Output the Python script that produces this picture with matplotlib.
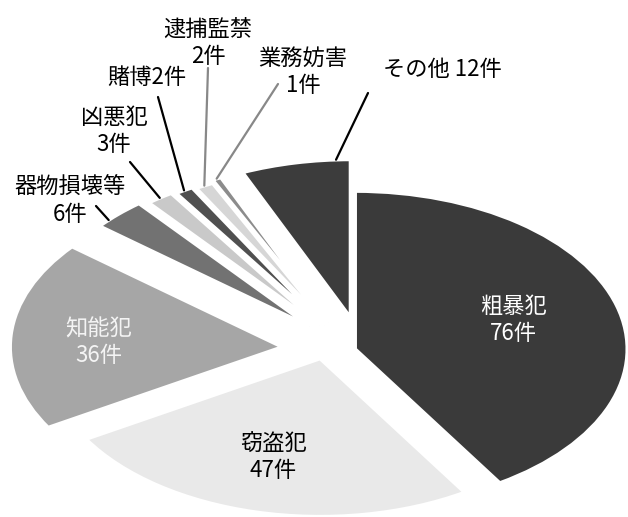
import numpy as np
import matplotlib
matplotlib.use('Agg')
import matplotlib.pyplot as plt

plt.rcParams['font.family'] = ['Noto Sans CJK JP', 'DejaVu Sans']

# data
labels = ['粗暴犯', '窃盗犯', '知能犯', '器物損壊等', '凶悪犯', '賭博', '逮捕監禁', '業務妨害', 'その他']
counts = [76, 47, 36, 6, 3, 2, 2, 1, 12]

# style
colors = ['#3a3a3a', '#e9e9e9', '#a6a6a6', '#727272', '#c9c9c9', '#505050', '#d6d6d6', '#8c8c8c', '#3c3c3c']
explode = [0.02, 0.03, 0.25, 0.21, 0.19, 0.18, 0.17, 0.19, 0.21]
nudge = {1: (-28, 4), 8: (12, 0)}   # extra pixel shift of some slices

W, H = 628, 517
CX, CY, RX, RY = 350, 350, 272, 158   # pie centre and radii in pixels (flattened ellipse)

fig = plt.figure(figsize=(W / 100, H / 100), dpi=100)
ax = fig.add_axes([0, 0, 1, 1])
wedges, _ = ax.pie(counts, colors=colors, explode=explode, startangle=90,
                   counterclock=False,
                   wedgeprops=dict(edgecolor='white', linewidth=2.5))
for i, (dx, dy) in nudge.items():
    cx, cy = wedges[i].center
    wedges[i].set_center((cx + dx / RX, cy - dy / RY))
ax.set_aspect('auto')
ax.set_xlim(-CX / RX, (W - CX) / RX)
ax.set_ylim((CY - H) / RY, CY / RY)
ax.axis('off')


def px(x, y):
    return (x / W, 1 - y / H)


def outer_point(w, f=0.5):
    ang = np.deg2rad(w.theta1 + f * (w.theta2 - w.theta1))
    cx, cy = w.center
    return (cx + w.r * np.cos(ang), cy + w.r * np.sin(ang))


fs = 16

# labels inside the big slices
inner = {0: ((513, 320), 'white'), 1: ((273, 457), 'black'), 2: ((99, 342), '#f4f4f4')}
for i, (pos, col) in inner.items():
    ax.text(*px(*pos), f'{labels[i]}\n{counts[i]}件', transform=ax.transAxes,
            ha='center', va='center', fontsize=fs, color=col, linespacing=1.2)

# labels outside with leader lines: text centre, line start, line colour, separator, arc point
outer = {
    3: ((70, 201), (96, 206), 'black', '\n', 0.75),
    4: ((114, 131), (130, 162), 'black', '\n', 0.5),
    5: ((147, 77), (158, 97), 'black', '', 0.5),
    6: ((208, 43), (208, 68), '#888888', '\n', 0.5),
    7: ((303, 72), (278, 84), '#888888', '\n', 0.5),
    8: ((442, 69), (368, 93), 'black', ' ', 0.13),
}
for i, (tpos, lstart, lcol, sep, f) in outer.items():
    ax.text(*px(*tpos), f'{labels[i]}{sep}{counts[i]}件', transform=ax.transAxes,
            ha='center', va='center', fontsize=fs, color='black', linespacing=1.25)
    ax.annotate('', xy=outer_point(wedges[i], f), xycoords='data',
                xytext=px(*lstart), textcoords='axes fraction',
                arrowprops=dict(arrowstyle='-', color=lcol, lw=1.6,
                                shrinkA=0, shrinkB=0))

fig.savefig('out.png', dpi=100)
